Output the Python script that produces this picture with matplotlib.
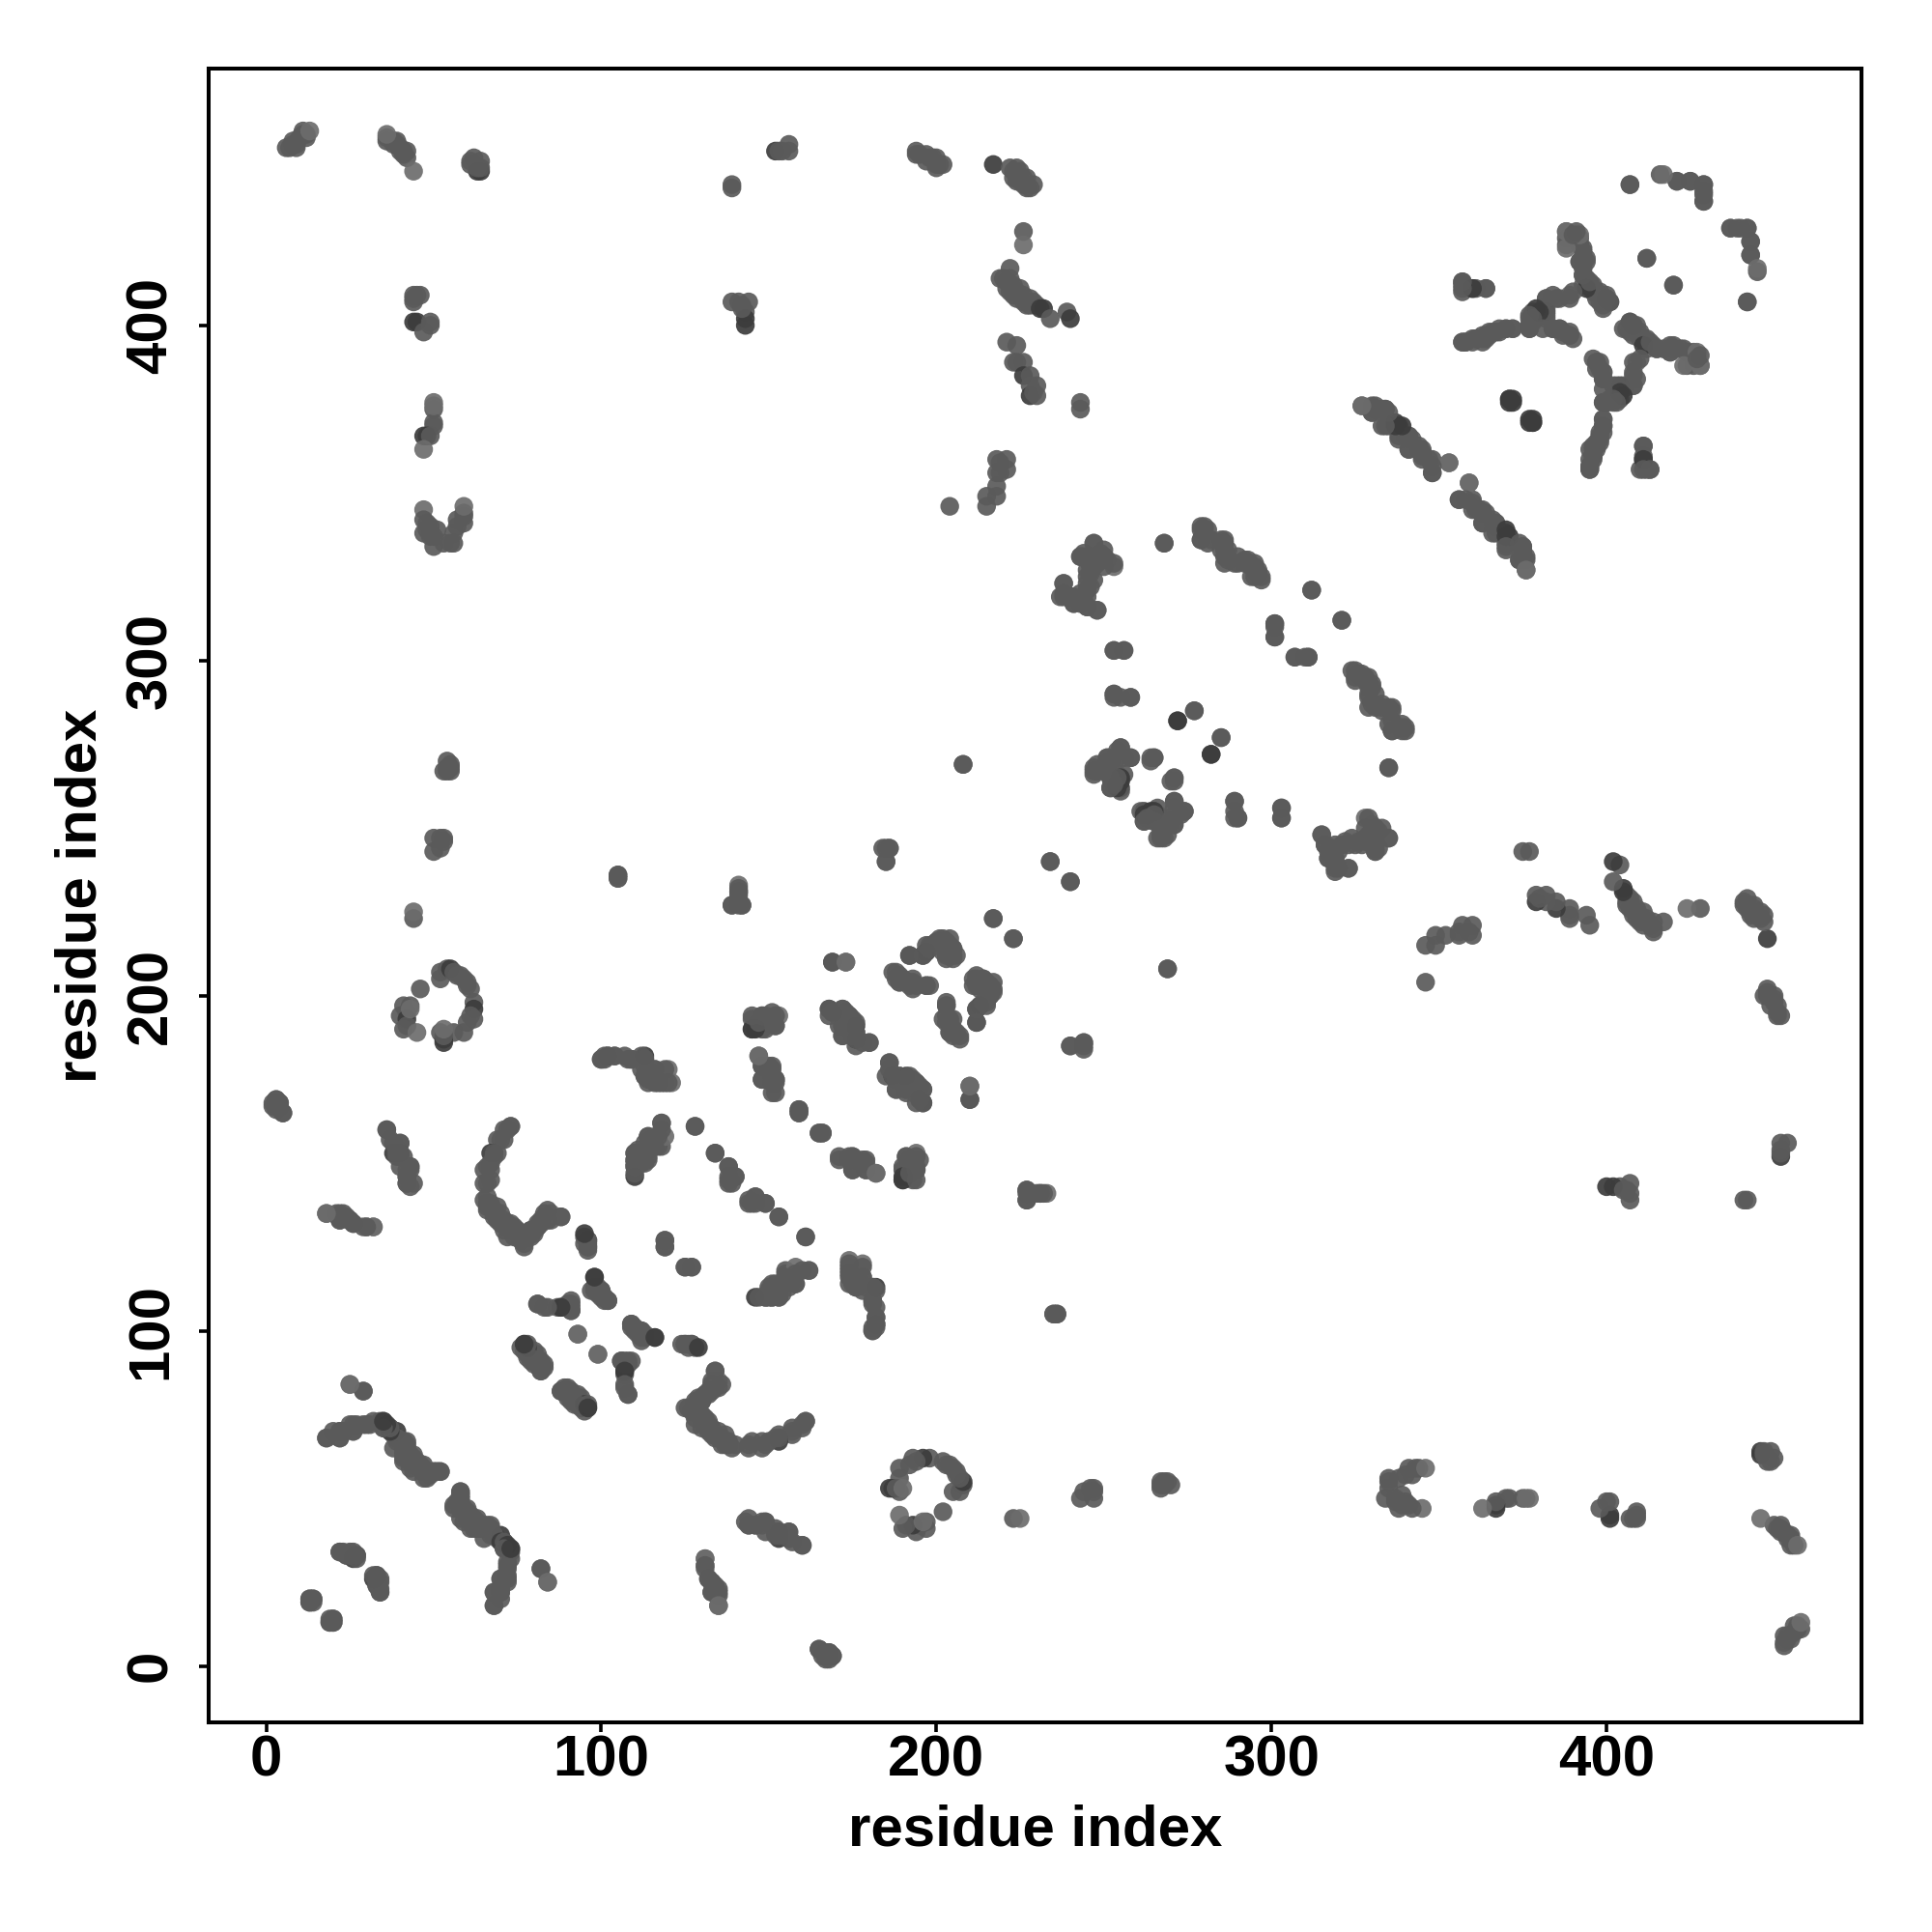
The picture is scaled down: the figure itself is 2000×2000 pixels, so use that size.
import matplotlib
matplotlib.use("Agg")
import matplotlib.pyplot as plt

plt.rcParams['font.family'] = ['Liberation Sans', 'DejaVu Sans']

tick_values = [0, 100, 200, 300, 400]
axis_label = "residue index"

# Contacts are (i, j) with i < j; the map is symmetric, so each is drawn at (i, j) and (j, i).
nterm_far = [(6,453),(7,453),(8,454),(9,454),(8,455),(9,453),(10,456),(12,456),(11,457),(12,457),(11,458),(13,458),
 (36,456),(36,455),(38,455),(38,454),(39,455),(39,454),(40,453),(40,452),(41,452),(41,451),(42,452),(42,450),(36,457),(44,446),
 (63,446),(64,446),(61,449),(61,448),(62,450),(63,447),(64,449),(64,447),
 (139,441),(139,442),(152,452),(153,452),(154,452),(156,454),(156,452)]
col_44 = [(44,407),(44,408),(44,409),(45,409),(46,409),(44,401),(45,401),(49,400),(49,401),(47,398),
 (50,371),(50,370),(48,367),(47,367),(49,367),(50,375),(50,376),(50,377),(47,363),
 (47,345),(47,342),(48,341),(47,338),(49,340),(49,337),(50,337),(50,334),(51,339),(53,335),(55,335),(56,335),(56,338),(57,340),(57,342),(59,341),(59,343),(59,344),(59,346),(48,339),
 (139,407),(141,407),(142,406),(144,407),(143,404),(143,402),(143,400),(142,405)]
col_194 = [(194,452),(194,451),(195,451),(197,451),(197,449),(198,450),(199,450),(200,450),(200,448),(201,448),(202,448),(200,447),
 (217,448),(222,447),(223,446),(224,447),(225,446),(223,444),(224,443),(225,443),(226,444),(227,444),(226,442),(227,441),(228,441),(229,442),
 (226,428),(226,424),
 (222,417),(219,414),(220,414),(221,413),(222,412),(221,411),(222,410),(223,412),(224,410),(224,408),(225,411),(226,409),(226,407),(227,406),(228,408),(228,406),(229,407),(230,406),(231,405),(232,405),(234,402),(239,404),(240,402),(222,414),(223,409),
 (221,395),(224,394),(223,389),(224,389),(226,389),(226,385),(228,385),(228,382),(228,379),(230,379),(229,380),(230,382),
 (243,377),(243,375),
 (218,360),(219,359),(221,360),(218,356),(219,356),(221,357),(218,352),(218,349),(215,349),(215,346),(204,346)]
domain_mid = [(243,331),(244,331),(250,331),(251,330),(247,328),(253,328),(246,326),(238,323),(245,321),(240,319),(241,319),(237,319),(238,320),(241,317),(245,316),(248,315),(244,318),(247,324),(246,322),(247,335),
 (268,335),(280,340),(279,339),(281,339),(279,336),(282,336),(286,336),(286,333),(286,331),(286,329),(290,329),(292,330),(294,328),(295,327),(295,325),(296,326),(297,324),(294,325),
 (312,321),(321,312),(301,311),(301,307),(307,301),(310,301),(311,301),(253,303),(256,303),
 (325,297),(326,296),(327,296),(328,295),(329,295),(329,292),(330,293),(331,290),(329,289),(330,287),(333,287),(333,285),(335,286),(335,281),(336,285),(336,279),(339,280),(340,279),(335,268)]
domain_ct = [(407,442),(416,445),(421,443),(425,443),(429,442),(429,440),(429,437),(437,429),(439,429),(442,429),(443,425),(443,421),(445,417),(442,407),(412,420),(420,412),
 (388,426),(392,426),(388,424),(392,424),(393,422),(394,420),(392,419),(393,417),(393,415),(394,414),(393,412),(395,412),(396,411),(397,410),(398,409),(398,407),(399,408),(400,408),(401,407),(399,406),(397,408),(388,428),(391,427),
 (385,408),(382,408),(381,405),(382,404),(378,404),(377,402),(377,400),(377,399),(378,401),(382,402),(384,399),(386,399),(387,397),(389,397),(390,396),(358,395),(357,395),(360,396),(361,396),(363,396),(364,397),(365,398),(367,398),(368,399),(370,399),(372,399),(389,409),
 (357,413),(357,412),(357,410),(360,411),(361,411),(364,411),
 (407,401),(405,399),(408,400),(409,400),(410,398),(410,396),(412,396),(411,394),(413,395),(415,393),(419,394),(420,393),(419,392),(423,393),(424,392),(427,392),(423,388),(428,388),(427,390),(428,391),
 (410,390),(408,389),(408,386),(409,384),(408,382),(405,382),(403,382),(404,380),(405,379),(403,377),(400,377),(399,377),(397,389),(398,389),(398,387),(399,386),(399,384),(399,381),(402,378),
 (395,357),(395,358),(395,360),(396,361),(395,363),(397,363),(396,364),(397,365),(398,366),(398,368),(399,370),(399,372),
 (411,364),(411,360),(411,357),(413,357),(371,378),(372,377),(377,371),(378,371),(378,372)]
strands = [(327,376),(330,376),(331,375),(333,375),(334,375),(330,374),(333,370),(335,370),(337,371),(338,370),(338,367),(340,367),(341,367),(341,363),(344,363),(345,362),(345,360),(348,360),(348,356),(353,359),
 (359,353),(356,348),(358,348),(360,347),(361,345),(363,345),(363,341),(364,344),(366,342),(367,341),(366,338),(370,339),(370,337),(370,334),(374,335),(375,334),(375,333),(376,331),(374,330),(376,327)]
col_50 = [(53,267),(54,268),(54,267),(55,268),(55,269),(54,270),(55,267),
 (50,247),(52,247),(53,247),(50,243),(52,244),(53,246),(44,223),(44,225),
 (52,207),(52,205),(54,208),(55,208),(56,207),(57,206),(58,206),(59,205),(60,204),(60,203),(61,202),(62,198),(62,196),(61,194),(62,193),(60,192),(59,189),(56,189),(46,202),(41,197),(43,197),(40,194),(42,195),(42,193),(42,191),(41,190),(43,196),(45,189),(52,189),(53,187),(53,186),(53,188),(53,190),
 (105,235),(105,236),(141,231),(141,233),(139,227),(142,227)]
sheet_a = [(145,193),(145,190),(148,194),(149,190),(150,193),(152,194),(153,194),(152,191),(147,192),(149,192),
 (147,182),(148,179),(151,179),(148,175),(151,176),(152,175),(152,174),(152,171),
 (100,181),(101,181),(102,182),(104,182),(108,181),(109,181),(113,182),(113,181),(113,179),(113,176),(115,177),(116,178),(116,174),(118,174),(119,174),(114,175),(120,178),(121,174),
 (2,168),(3,169),(2,167),(4,168),(3,166),(5,165),
 (36,160),(37,157),(38,156),(40,156),(38,153),(39,153),(40,153),(41,152),(39,152),(40,149),(43,149),(42,146),(43,148),(42,144),(44,144),
 (73,161),(71,160),(69,157),(70,157),(67,153),(68,153),(69,153),(66,149),(65,148),(65,144),(67,145),(65,139),(66,137),(67,138),(68,136),(69,137),(70,135),(71,133),(72,132),(73,132),(74,131),(75,130),(76,129),(77,126),(78,128),(79,130),(80,129),(81,131),(81,132),(82,133),(83,134),(84,134),(85,133),(85,135),(88,134),
 (18,135),(21,135),(22,134),(22,133),(25,133),(26,132),(29,131),(30,131),(32,131),
 (95,128),(96,127),(96,125),(95,126),(119,127),(119,125),(125,119),(127,119),
 (110,146),(110,149),(111,150),(113,150),(114,151),(110,151),(112,152),(110,153),(111,154),(113,156),(114,158),(116,157),(117,155),(118,155),(119,158),(118,162)]
sheet_b = [(128,161),(134,153),(138,149),(138,145),(140,146),(139,144),(144,138),(146,140),(146,138),(149,138),(153,134),(161,128),
 (159,166),(159,165),(165,159),(166,159),(171,151),(174,151),(175,152),(175,148),(178,151),(179,150),(179,148),(182,147),
 (191,152),(192,151),(194,152),(195,151),(190,148),(192,149),(194,149),(190,146),(190,145),(194,148),(194,145),(192,147),
 (227,142),(227,141),(227,139),(230,141),(231,141),(232,141),
 (186,180),(185,176),(187,176),(188,175),(189,176),(191,176),(192,175),(193,175),(194,174),(188,172),(191,172),(194,172),(196,168),(195,169),(194,168),(196,172),
 (210,173),(210,169),
 (168,196),(169,195),(172,196),(173,195),(174,194),(175,192),(176,192),(175,190),(171,191),(172,188),(172,191),(176,189),(176,187),(178,186),(180,186),(174,192),
 (203,197),(203,194),(205,193),(203,192),(205,190),(205,188),(207,187),(204,189),(211,205),(212,206),(213,204),(214,205),(215,203),(216,203),(217,204),(217,202),(217,201),(215,198),(212,196),(213,197),(212,192),(212,203),(216,200),
 (192,212),(196,212),(197,215),(198,214),(200,216),(201,216),(202,216),(203,216),(204,215),(205,214),(205,212),(203,213),(202,213),(203,211),
 (169,210),(173,210),(188,207),(189,206),(189,204),(192,204),(193,204),(193,202),(197,203),(198,203),
 (208,269),(184,244),(186,244),(185,240),(234,240),(240,234),(217,223),(223,217),(269,208),(240,185),(244,186),(244,185)]
domain_junction = [(253,290),(255,289),(258,289),(272,282),(277,285),(282,272),(285,277),
 (255,274),(254,273),(251,271),(252,270),(258,271),(256,271),(264,271),(265,271),(247,267),(248,267),(250,267),(251,268),(252,265),(254,266),(255,265),(256,266),(255,262),(252,262),(253,263),(254,263),(271,265),(270,264),(261,255),(262,254),(264,255),(265,255),(265,254),(271,258),(274,255),(262,252),(265,252),(271,254),(271,251),(268,250),(269,248),(267,248),(266,247),(268,247),(263,253),(270,252),
 (289,258),(289,253),(290,253),(303,256),(303,253),
 (315,248),(316,245),(317,243),(319,245),(320,243),(317,241),(319,238),(319,240),(323,238),(323,245),(325,245),(327,245),(328,246),(329,253),(328,250),(329,248),(331,250),(332,249),(333,250),(335,247),(331,243),(330,245),(332,244),(331,247)]
nterm_near = [(25,84),(29,82),
 (18,68),(22,70),(22,68),(23,70),(26,72),(26,70),(30,72),(32,73),(34,73),(35,73),(35,71),(37,71),(38,69),(39,70),(39,68),(41,67),(42,67),(41,64),(42,65),(41,62),(43,63),(44,62),(44,60),(45,61),(46,60),(47,59),(47,58),(48,56),(50,58),(51,58),(52,58),
 (58,52),(58,51),(57,49),(58,50),(56,47),(58,47),(60,47),(60,45),(58,44),(59,43),(61,44),(62,42),(63,44),(61,41),(63,41),(65,41),(66,42),(67,41),(65,38),(67,39),(68,39),(70,37),(71,37),(72,36),(71,35),(72,31),(72,29),(72,27),(70,26),(72,25),(70,22),(68,22),(70,20),(68,18),(73,35),
 (82,29),(84,25),
 (22,34),(24,33),(25,34),(26,33),(26,32),(27,33),(32,27),(33,27),(34,26),(33,24),(34,23),(33,25),(34,22),
 (13,20),(14,20),(13,19),(14,19),(19,13),(20,14),(20,13),
 (131,32),(131,30),(132,26),(133,25),(133,22),(134,24),(135,23),(135,22),(135,18),
 (165,5),(167,4),(168,3),(168,4),(169,3)]
core = [(98,116),(97,112),(98,113),(99,111),(100,112),(100,110),(101,109),(102,109),
 (81,108),(83,107),(87,107),(88,107),(90,107),(91,108),(91,106),(93,99),(99,93),
 (109,102),(110,101),(112,100),(113,99),(112,98),(116,98),
 (106,91),(107,91),(109,91),(108,90),(107,88),(107,84),(108,81),
 (124,96),(125,96),(126,96),(127,96),(129,95),
 (77,96),(76,95),(78,95),(77,94),(79,94),(78,92),(80,93),(81,93),(79,91),(81,90),(82,91),(83,90),(82,88),
 (88,82),(89,83),(90,82),(90,80),(91,81),(92,80),(93,79),(94,80),(95,78),(93,78),(96,78),(96,77),
 (134,88),(136,84),(135,83),(133,84),(132,82),(131,81),(130,80),(130,79),(129,78),(128,79),(125,77),(127,76),(128,74),(129,75),(130,74),(128,72),(130,71),(131,72),(132,70),(133,69),(134,68),(135,68),(136,66),(137,67),(138,66),(140,66),
 (144,66),(148,67),(150,67),(152,68),(153,68),(157,71),(160,72),(161,73),
 (143,43),(144,42),(146,42),(148,42),(149,43),(152,40),(153,39),(154,39),(156,40),(156,38),(160,36),
 (147,110),(149,110),(150,112),(150,110),(151,110),(152,114),(153,110),(153,112),(154,114),(155,116),(157,115),(158,117),(158,114),(160,118),(162,118),
 (174,120),(178,119),(174,117),(174,114),(175,116),(176,113),(178,116),(178,112),(181,113),(182,112),(181,109),(182,107),(182,104),(182,101),(181,100),(182,102),
 (235,105),(236,105)]

dark_contacts = [(44,401),(45,401),(48,367),(47,367),(38,153),(39,153),(40,153),(55,208),(61,193),(62,196),(42,193),(53,187),(53,186),
 (63,446),(64,446),(231,405),(232,405),(227,385),(226,385),(228,379),(143,402),(143,400),(152,452),(27,33),(26,32),(73,35),(72,36),(70,37),(39,70),
 (113,182),(102,182),(110,146),(107,88),(191,176),(187,176),(196,168),(195,169),(240,402),(217,448),(272,282),(282,272),(262,254),(264,255),(265,255),(255,262),(254,263),
 (360,411),(337,371),(338,370),(370,339),(370,337),(371,378),(372,377),(377,371),(378,371),(378,372),(411,360),(382,404),(405,379),(404,380),(400,408),(401,407),(411,394),
 (129,95),(116,98),(212,192),(212,196),(213,197),(190,146),(190,145),(210,169),(67,153),(68,153),(88,107),(96,77),(95,78)]
light_contacts = [(44,446),(388,428),(391,427),(389,409),(372,399),(445,417),(353,359),(376,327),(359,353),(429,437),(118,162),(119,158),(121,174),(120,178),(88,134),(85,135),
 (153,194),(226,424),(248,315),(253,328),(247,335),(238,323),(50,377),(50,376),(47,363),(59,346),(47,345),(13,458),(36,457),(141,233),(105,235),(44,225),(53,190),(45,189),(43,196),
 (32,131),(30,131),(182,147),(185,240),(186,244),(173,210),(84,25),(25,84),(135,18),(131,32),(99,93),(93,99),(427,392),(428,388),(423,388)]

all_contacts = (nterm_far + col_44 + col_194 + domain_mid + domain_ct + strands + col_50
                + sheet_a + sheet_b + domain_junction + nterm_near + core)

TONES = {"mid": "#5a5a5a", "dark": "#3c3c3c", "light": "#6c6c6c"}
dark_set, light_set = set(dark_contacts), set(light_contacts)
xs, ys, cols = [], [], []
for i, j in all_contacts:
    tone = "dark" if (i, j) in dark_set else "light" if (i, j) in light_set else "mid"
    xs += [i, j]
    ys += [j, i]
    cols += [TONES[tone]] * 2

fig = plt.figure(figsize=(20, 20), dpi=100)
ax = fig.add_axes([0.1078, 0.1084, 0.8559, 0.8559])
ax.scatter(xs, ys, s=195, c=cols, alpha=0.92, linewidths=0)
ax.set_xlim(-17.27, 476.2)
ax.set_ylim(-16.9, 476.5)
ax.set_xticks(tick_values)
ax.set_yticks(tick_values)
ax.set_xticklabels([str(v) for v in tick_values], fontsize=43.2, fontweight='bold')
ax.set_yticklabels([str(v) for v in tick_values], fontsize=43.2, fontweight='bold', rotation=90, va='center')
ax.tick_params(axis='x', length=7, width=2.6, pad=2)
ax.tick_params(axis='y', length=7, width=2.6, pad=15.5)
for s in ax.spines.values():
    s.set_linewidth(2.9)
ax.set_xlabel(axis_label, fontsize=43.2, fontweight='bold', labelpad=12)
ax.set_ylabel(axis_label, fontsize=43.2, fontweight='bold', labelpad=13)
fig.savefig("out.png", dpi=100, facecolor='white')
